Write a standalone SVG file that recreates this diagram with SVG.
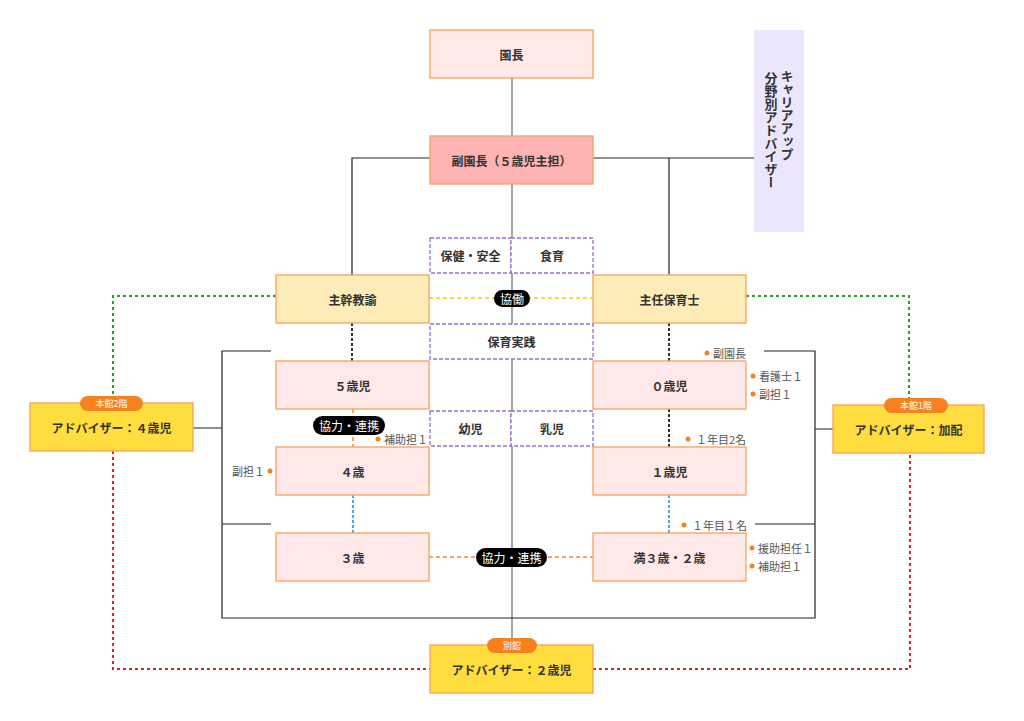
<svg xmlns="http://www.w3.org/2000/svg" width="1024" height="721" viewBox="0 0 1024 721">
<style>
text{font-family:"Noto Sans CJK JP","Noto Sans",sans-serif;}
.b{font-weight:bold;font-size:12px;fill:#333;text-anchor:middle;dominant-baseline:central;}
.pink{fill:#ffe8e8;stroke:#f5a35c;stroke-width:1.3;}
.salmon{fill:#ffb3b3;stroke:#f5a35c;stroke-width:1.3;}
.cream{fill:#fdebb8;stroke:#f5a35c;stroke-width:1.3;}
.gold{fill:#ffdd3f;stroke:#f5a35c;stroke-width:1.3;}
.purp{fill:#fff;stroke:#9b6fc8;stroke-width:1.3;stroke-dasharray:4,2;}
.badge{fill:#f5821f;}
.bt{font-size:9px;fill:#fff;text-anchor:middle;dominant-baseline:central;}
.pill{fill:#000;}
.pt{font-size:12px;fill:#fff;text-anchor:middle;dominant-baseline:central;}
.note{font-size:11px;fill:#555;dominant-baseline:central;}
.dot{fill:#f5821f;}
.ln{fill:none;stroke:#222;stroke-width:1.2;}
.gray{fill:none;stroke:#888;stroke-width:1.5;}
.green{fill:none;stroke:#22a322;stroke-width:2;stroke-dasharray:3,3;}
.red{fill:none;stroke:#d9232d;stroke-width:2;stroke-dasharray:3,3;}
.yel{fill:none;stroke:#f0d000;stroke-width:1.5;stroke-dasharray:4,3;}
.org{fill:none;stroke:#f5862a;stroke-width:1.5;stroke-dasharray:4,3;}
.blue{fill:none;stroke:#4aa8f0;stroke-width:2;stroke-dasharray:3,2;}
.dk{fill:none;stroke:#333;stroke-width:2;stroke-dasharray:3,2;}
</style>
<rect width="1024" height="721" fill="#fff"/>
<g id="connectors">
  <path class="gray" d="M512,78 V645"/>
  <path class="ln" d="M352,275 V158 H430 M593,158 H754 M669,158 V275"/>
  <path class="ln" d="M271,351 H222 V618 H815 V351 H764 M222,524 H271 M755,524 H815 M193,428 H222 M815,429 H833"/>
  <path class="green" d="M276,296 H113 V403"/>
  <path class="green" d="M746,296 H909 V405"/>
  <path class="red" d="M113,451 V669 H430 M593,669 H910 V453"/>
  <path class="yel" d="M429,298 H593"/>
  <path class="dk" d="M352,323 V361 M669,323 V361 M669,409 V447"/>
  <path class="org" d="M353,409 V447"/>
  <path class="blue" d="M353,495 V533 M669,495 V533"/>
  <path class="org" d="M429,557 H593"/>
</g>
<g id="n-encho"><rect class="pink" x="430" y="30" width="163" height="48"/><text class="b" x="511.5" y="54">園長</text></g>
<g id="n-fukuencho"><rect class="salmon" x="430" y="136" width="163" height="48"/><text class="b" x="511.5" y="160">副園長（５歳児主担）</text></g>
<g id="n-career"><rect x="754" y="30" width="50" height="202" fill="#ebe6fb"/>
  <text x="787" y="70" style="writing-mode:vertical-rl;font-weight:bold;font-size:13px;fill:#333">キャリアアップ</text>
  <text x="771" y="72" style="writing-mode:vertical-rl;font-weight:bold;font-size:13px;fill:#333">分野別アドバイザー</text>
</g>
<g id="n-hoken"><rect class="purp" x="430" y="238" width="81" height="35"/><text class="b" x="470.5" y="255.5">保健・安全</text></g>
<g id="n-shokuiku"><rect class="purp" x="511" y="238" width="82" height="35"/><text class="b" x="552" y="255.5">食育</text></g>
<g id="n-shukan"><rect class="cream" x="276" y="275" width="153" height="48"/><text class="b" x="352.5" y="299">主幹教諭</text></g>
<g id="n-shunin"><rect class="cream" x="593" y="275" width="153" height="48"/><text class="b" x="669.5" y="299">主任保育士</text></g>
<g id="n-kyodo"><rect class="pill" x="494" y="290" width="36" height="17" rx="8.5"/><text class="pt" x="512" y="298.5">協働</text></g>
<g id="n-jissen"><rect class="purp" x="430" y="324" width="163" height="35"/><text class="b" x="511.5" y="341.5">保育実践</text></g>
<g id="n-5"><rect class="pink" x="276" y="361" width="153" height="48"/><text class="b" x="352.5" y="385">５歳児</text></g>
<g id="n-0"><rect class="pink" x="593" y="361" width="153" height="48"/><text class="b" x="669.5" y="385">０歳児</text></g>
<g id="n-yoji"><rect class="purp" x="430" y="411" width="81" height="35"/><text class="b" x="470.5" y="428.5">幼児</text></g>
<g id="n-nyuji"><rect class="purp" x="511" y="411" width="82" height="35"/><text class="b" x="552" y="428.5">乳児</text></g>
<g id="n-4"><rect class="pink" x="276" y="447" width="153" height="48"/><text class="b" x="352.5" y="471">４歳</text></g>
<g id="n-1"><rect class="pink" x="593" y="447" width="153" height="48"/><text class="b" x="669.5" y="471">１歳児</text></g>
<g id="n-3"><rect class="pink" x="276" y="533" width="153" height="48"/><text class="b" x="352.5" y="557">３歳</text></g>
<g id="n-2"><rect class="pink" x="593" y="533" width="153" height="48"/><text class="b" x="669.5" y="557">満３歳・２歳</text></g>
<g id="n-kyoryoku1"><rect class="pill" x="313" y="416" width="72" height="19" rx="9.5"/><text class="pt" x="349" y="425.5">協力・連携</text></g>
<g id="n-kyoryoku2"><rect class="pill" x="476" y="548" width="71" height="19" rx="9.5"/><text class="pt" x="511.5" y="557.5">協力・連携</text></g>
<g id="n-adv4"><rect class="gold" x="30" y="403" width="163" height="48"/><text class="b" x="111.5" y="427">アドバイザー：４歳児</text>
  <rect class="badge" x="80" y="396" width="63" height="15" rx="7.5"/><text class="bt" x="111.5" y="403.5">本館2階</text></g>
<g id="n-advkahai"><rect class="gold" x="833" y="405" width="151" height="48"/><text class="b" x="908.5" y="429">アドバイザー：加配</text>
  <rect class="badge" x="884" y="398" width="64" height="15" rx="7.5"/><text class="bt" x="916" y="405.5">本館1階</text></g>
<g id="n-adv2"><rect class="gold" x="430" y="645" width="163" height="48"/><text class="b" x="511.5" y="669">アドバイザー：２歳児</text>
  <rect class="badge" x="487" y="638" width="50" height="15" rx="7.5"/><text class="bt" x="512" y="645.5">別館</text></g>
<g id="notes">
  <circle class="dot" cx="707" cy="353" r="2.5"/><text class="note" x="713" y="353">副園長</text>
  <circle class="dot" cx="753" cy="376" r="2.5"/><text class="note" x="759" y="376">看護士１</text>
  <circle class="dot" cx="753" cy="394" r="2.5"/><text class="note" x="759" y="394">副担１</text>
  <circle class="dot" cx="688" cy="439" r="2.5"/><text class="note" x="696" y="439">１年目2名</text>
  <circle class="dot" cx="684" cy="525" r="2.5"/><text class="note" x="692" y="525">１年目１名</text>
  <circle class="dot" cx="752" cy="548" r="2.5"/><text class="note" x="758" y="548">援助担任１</text>
  <circle class="dot" cx="752" cy="566" r="2.5"/><text class="note" x="758" y="566">補助担１</text>
  <circle class="dot" cx="378" cy="439" r="2.5"/><text class="note" x="384" y="439">補助担１</text>
  <circle class="dot" cx="270" cy="471" r="2.5"/><text class="note" x="265" y="471" text-anchor="end">副担１</text>
</g>
</svg>
